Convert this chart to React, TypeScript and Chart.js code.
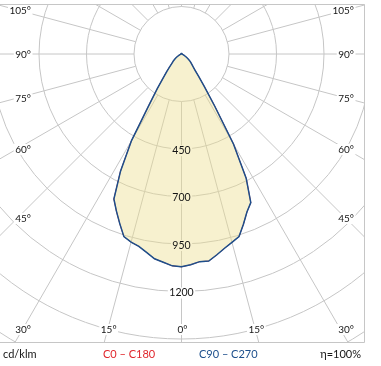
import React, { useEffect, useRef } from 'react';
import { Chart, registerables } from 'chart.js';

Chart.register(...registerables);

// ---- data ----
// gamma angles of the half-planes, 0 = straight down
const GAMMA = [
  0, 2.5, 5, 7.5, 10, 12.5, 15, 17.5, 20, 22.5, 25, 27.5, 30, 32.5, 35, 37.5, 40, 42.5,
  45, 47.5, 50, 52.5, 55, 57.5, 60, 62.5, 65, 67.5, 70, 72.5, 75, 77.5, 80, 82.5, 85, 87.5,
  90, 92.5, 95, 97.5, 100, 102.5, 105, 107.5, 110, 112.5, 115, 117.5, 120, 122.5, 125, 127.5,
  130, 132.5, 135, 137.5, 140, 142.5, 145, 147.5, 150, 152.5, 155, 157.5, 160, 162.5, 165,
  167.5, 170, 172.5, 175, 177.5, 180,
];
// C270 half-plane (left side), cd/klm
const I_C270 = [
  1070, 1066, 1050, 1037, 1010, 987, 975, 958, 900, 845, 792, 645, 476, 266, 171, 108, 71, 45,
  24, 13, 5, -5, -13, -21, -29, -34, -39, -44,
  -47, -47, -47, -47, -47, -47, -47, -47, -47,
  -47, -47, -47, -47, -47, -47, -47, -47, -47,
  -47, -47, -47, -47, -47, -47, -47, -47, -47,
  -47, -47, -47, -47, -47, -47, -47, -47, -47,
  -47, -47, -47, -47, -47, -47, -47, -47, -47,
];
// C90 half-plane (right side), cd/klm
const I_C90 = [
  1070, 1060, 1047, 1049, 1023, 997, 976, 957, 903, 850, 813, 687, 497, 276, 160, 97, 60, 39,
  26, 16, 8, -3, -13, -21, -29, -34, -39, -44,
  -47, -47, -47, -47, -47, -47, -47, -47, -47,
  -47, -47, -47, -47, -47, -47, -47, -47, -47,
  -47, -47, -47, -47, -47, -47, -47, -47, -47,
  -47, -47, -47, -47, -47, -47, -47, -47, -47,
  -47, -47, -47, -47, -47, -47, -47, -47, -47,
];
const RADIAL_MIN = -50;
const RADIAL_MAX = 1950;
const RADIAL_STEP = 250;
const RADIAL_TICK_LABELS = [450, 700, 950, 1200];
const ANGLE_TICK_LABELS = [0, 15, 30, 45, 60, 75, 90, 105];
const INNER_RING = 200;
const UNIT = 'cd/klm';
const LEGEND_C0 = 'C0 – C180';
const LEGEND_C90 = 'C90 – C270';
const EFFICIENCY = 'η=100%';

// ---- layout / style ----
const W = 381;
const H = 366;
const CX = 181.5;
const CY = 54;
const R_FULL = 380;
const FRAME = { left: -1, top: 4.5, right: 364.5, bottom: 342.5 };
const GRID = '#c6c6c6';
const TEXT = '#151515';
const BLUE = '#1d4f8c';
const RED = '#e0262c';
const FONT = 'Lato, "Open Sans", sans-serif';

// radar table: index 0 points down, increasing index goes to the left side
const LABELS: string[] = [];
const VALUES: number[] = [];
for (let i = 0; i < GAMMA.length; i++) {
  LABELS.push(`C270 γ${GAMMA[i]}`);
  VALUES.push(I_C270[i]);
}
for (let i = GAMMA.length - 2; i >= 1; i--) {
  LABELS.push(`C90 γ${GAMMA[i]}`);
  VALUES.push(I_C90[i]);
}

function backdrop(ctx: CanvasRenderingContext2D, text: string, x: number, y: number, align: CanvasTextAlign) {
  const w = ctx.measureText(text).width;
  const left = align === 'right' ? x - w : align === 'center' ? x - w / 2 : x;
  ctx.fillStyle = '#ffffff';
  ctx.fillRect(left - 1.5, y - 5.5, w + 3, 11);
}

function label(ctx: CanvasRenderingContext2D, text: string, x: number, y: number, align: CanvasTextAlign) {
  ctx.fillStyle = TEXT;
  ctx.textAlign = align;
  ctx.fillText(text, x, y);
}

const TICK_FONT = `10.5px ${FONT}`;

const ldcPlugin = {
  id: 'ldcPlugin',
  beforeDraw(chart: any) {
    const ctx: CanvasRenderingContext2D = chart.ctx;
    ctx.save();
    ctx.fillStyle = '#ffffff';
    ctx.fillRect(0, 0, chart.width, chart.height);
    ctx.beginPath();
    ctx.rect(FRAME.left, FRAME.top, FRAME.right - FRAME.left, FRAME.bottom - FRAME.top);
    ctx.clip();
  },
  beforeDatasetsDraw(chart: any) {
    // white backdrops behind the radial tick labels (hide the rings there)
    const ctx: CanvasRenderingContext2D = chart.ctx;
    const s = chart.scales.r;
    ctx.save();
    ctx.font = TICK_FONT;
    for (const v of RADIAL_TICK_LABELS) {
      const d = s.getDistanceFromCenterForValue(v);
      backdrop(ctx, String(v), s.xCenter, s.yCenter + d + 1.5, 'center');
    }
    ctx.restore();
  },
  afterDatasetsDraw(chart: any) {
    chart.ctx.restore();
  },
  afterDraw(chart: any) {
    const ctx: CanvasRenderingContext2D = chart.ctx;
    const s = chart.scales.r;
    const cx = s.xCenter;
    const cy = s.yCenter;
    ctx.save();
    // radial tick labels on top of the fill
    ctx.font = TICK_FONT;
    ctx.textBaseline = 'middle';
    for (const v of RADIAL_TICK_LABELS) {
      const d = s.getDistanceFromCenterForValue(v);
      label(ctx, String(v), cx, cy + d + 1.5, 'center');
    }

    // frame
    ctx.strokeStyle = GRID;
    ctx.lineWidth = 1;
    ctx.beginPath();
    ctx.moveTo(FRAME.left, FRAME.top);
    ctx.lineTo(FRAME.right, FRAME.top);
    ctx.lineTo(FRAME.right, FRAME.bottom);
    ctx.lineTo(FRAME.left, FRAME.bottom);
    ctx.stroke();

    // angle labels
    ctx.font = `10px ${FONT}`;
    ctx.textBaseline = 'middle';
    const bottomY = FRAME.bottom - 13;
    const leftX = 31;
    const rightX = FRAME.right - 10.5;
    const put = (t: string, x: number, y: number, align: CanvasTextAlign) => {
      backdrop(ctx, t, x, y, align);
      label(ctx, t, x, y, align);
    };
    for (const a of ANGLE_TICK_LABELS) {
      const rad = (a * Math.PI) / 180;
      const t = `${a}°`;
      if (a === 0) {
        put(t, cx + 1, bottomY, 'center');
      } else if (a < 30) {
        const dx = (bottomY - cy) * Math.tan(rad);
        put(t, cx - dx + 1, bottomY, 'center');
        put(t, cx + dx + 1, bottomY, 'center');
      } else {
        const y = Math.min(cy + (cx - 18) / Math.tan(rad) + 1, bottomY);
        put(t, leftX, y, 'right');
        put(t, rightX, y, 'right');
      }
    }

    // legend row
    ctx.font = `11px ${FONT}`;
    ctx.textBaseline = 'middle';
    const ly = 354;
    ctx.fillStyle = TEXT;
    ctx.textAlign = 'left';
    ctx.fillText(UNIT, 3, ly);
    ctx.fillStyle = RED;
    ctx.fillText(LEGEND_C0, 103, ly);
    ctx.fillStyle = BLUE;
    ctx.fillText(LEGEND_C90, 199, ly);
    ctx.fillStyle = TEXT;
    ctx.textAlign = 'right';
    ctx.fillText(EFFICIENCY, 361, ly);
    ctx.restore();
  },
};

export default function App() {
  const ref = useRef<HTMLCanvasElement>(null);
  useEffect(() => {
    document.body.style.margin = '0';
    const canvas = ref.current!;
    const chart = new Chart(canvas, {
      type: 'radar',
      data: {
        labels: LABELS,
        datasets: [
          {
            label: LEGEND_C90,
            data: VALUES,
            borderColor: BLUE,
            borderWidth: 1.5,
            backgroundColor: 'rgba(236, 222, 140, 0.42)',
            fill: 'start',
            pointRadius: 0,
            pointHoverRadius: 0,
            tension: 0,
          },
          {
            label: LEGEND_C0,
            data: VALUES,
            borderColor: RED,
            borderWidth: 1,
            fill: false,
            pointRadius: 0,
            pointHoverRadius: 0,
            tension: 0,
          },
        ],
      },
      options: {
        responsive: false,
        animation: false,
        events: [],
        layout: { padding: 0 },
        plugins: { legend: { display: false }, tooltip: { enabled: false } },
        scales: {
          r: {
            min: RADIAL_MIN,
            max: RADIAL_MAX,
            startAngle: 180,
            ticks: { display: false, stepSize: RADIAL_STEP },
            pointLabels: { display: false },
            grid: {
              circular: true,
              color: GRID,
              lineWidth: (c: any) => (c.index === 0 ? 0 : 1),
            },
            angleLines: {
              display: true,
              color: GRID,
              lineWidth: (c: any) => (c.index % 6 === 0 ? 1 : 0),
              borderDash: (c: any) => [0, c.chart.scales.r.getDistanceFromCenterForValue(INNER_RING), 2000],
            },
            afterFit: (scale: any) => {
              scale.xCenter = CX;
              scale.yCenter = CY;
              scale.drawingArea = R_FULL;
            },
          } as any,
        },
      },
      plugins: [ldcPlugin],
    });
    return () => chart.destroy();
  }, []);
  return (
    <div style={{ position: 'fixed', left: 0, top: 0, width: W, height: H, background: '#fff' }}>
      <canvas ref={ref} width={W} height={H} style={{ display: 'block' }} />
    </div>
  );
}
